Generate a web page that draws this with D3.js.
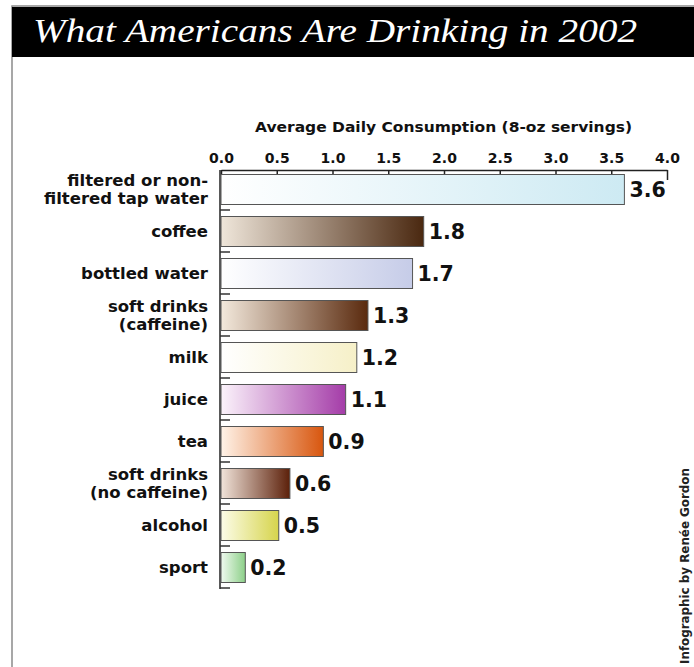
<!DOCTYPE html>
<html><head><meta charset="utf-8">
<script src="https://cdn.jsdelivr.net/npm/d3@7"></script>
<style>body{margin:0;background:#fff}svg{display:block}</style>
</head><body>
<svg id="c" width="694" height="667"></svg>
<script>
const categories = [
  ["filtered or non-", "filtered tap water"],
  ["coffee"],
  ["bottled water"],
  ["soft drinks", "(caffeine)"],
  ["milk"],
  ["juice"],
  ["tea"],
  ["soft drinks", "(no caffeine)"],
  ["alcohol"],
  ["sport"]
];
const values = [3.6, 1.8, 1.7, 1.3, 1.2, 1.1, 0.9, 0.6, 0.5, 0.2];
const valueLabels = ["3.6","1.8","1.7","1.3","1.2","1.1","0.9","0.6","0.5","0.2"];
const tickValues = [0, 0.5, 1.0, 1.5, 2.0, 2.5, 3.0, 3.5, 4.0];
const startColors = ["#ffffff","#efe6da","#ffffff","#f3e9dc","#ffffff","#fbf3fb","#fff3e8","#f1e4da","#fcfce8","#f0faf0"];
const endColors   = ["#cdeaf3","#4a2810","#c6cce8","#5a2a0e","#f6f0c8","#a43ca8","#d8560e","#5c200a","#d6d44c","#8ccf88"];

const svg = d3.select("#c");
const font = "'DejaVu Sans', sans-serif";

// frame
svg.append("rect").attr("x",12).attr("y",6).attr("width",690).attr("height",700)
  .attr("fill","none").attr("stroke","#8a8a8a").attr("stroke-width",1.5);
svg.append("rect").attr("x",12).attr("y",7).attr("width",682).attr("height",50).attr("fill","#000");
svg.append("text").attr("x",33).attr("y",42)
  .attr("font-family","'Liberation Serif', serif").attr("font-style","italic")
  .attr("font-size",33).attr("fill","#fff")
  .attr("textLength",604).attr("lengthAdjust","spacingAndGlyphs")
  .text("What Americans Are Drinking in 2002");

const x = d3.scaleLinear().domain([0,4]).range([221,667]);
const y = d3.scaleBand().domain(d3.range(values.length)).range([168,588]).paddingInner(0).paddingOuter(0);
const barH = 30;

// gradients
const defs = svg.append("defs");
values.forEach((v,i)=>{
  const g = defs.append("linearGradient").attr("id","g"+i).attr("x1","0").attr("x2","1").attr("y1","0").attr("y2","0");
  g.append("stop").attr("offset","0").attr("stop-color",startColors[i]);
  g.append("stop").attr("offset","1").attr("stop-color",endColors[i]);
});

// axis title
svg.append("text").attr("x",255).attr("y",132)
  .attr("font-family",font).attr("font-weight",700).attr("font-size",13.5).attr("fill","#111")
  .attr("textLength",377).attr("lengthAdjust","spacingAndGlyphs")
  .text("Average Daily Consumption (8-oz servings)");

// top axis
const xAxis = d3.axisTop(x).tickValues(tickValues).tickFormat(d3.format(".1f")).tickSize(0).tickPadding(7);
const ax = svg.append("g").attr("transform","translate(0,170)").call(xAxis);
ax.select(".domain").attr("stroke","#222").attr("stroke-width",1.5);
ax.selectAll("text").attr("font-family",font).attr("font-weight",700).attr("font-size",14).attr("fill","#111");
ax.selectAll(".tick").append("line").attr("y1",0).attr("y2",d=>d===4?10:5).attr("stroke","#222").attr("stroke-width",1.5);

// left axis line
svg.append("line").attr("x1",x(0)-1).attr("x2",x(0)-1).attr("y1",170).attr("y2",589).attr("stroke","#222").attr("stroke-width",1.5);
// band ticks
svg.selectAll(".bt").data(values).join("line").attr("class","bt")
  .attr("x1",x(0)-1).attr("x2",x(0)+9)
  .attr("y1",(d,i)=>y(i)+y.bandwidth()).attr("y2",(d,i)=>y(i)+y.bandwidth())
  .attr("stroke","#333").attr("stroke-width",1.5);

// bars
svg.selectAll(".bar").data(values).join("rect").attr("class","bar")
  .attr("x",x(0)).attr("y",(d,i)=>y(i)+(y.bandwidth()-barH)/2+0.5)
  .attr("width",d=>x(d)-x(0)+2).attr("height",barH)
  .attr("fill",(d,i)=>`url(#g${i})`).attr("stroke","#555").attr("stroke-width",1);

// value labels
svg.selectAll(".vl").data(values).join("text").attr("class","vl")
  .attr("x",d=>x(d)+7).attr("y",(d,i)=>y(i)+y.bandwidth()/2+8)
  .attr("font-family",font).attr("font-weight",700).attr("font-size",20.5).attr("fill","#111")
  .text((d,i)=>valueLabels[i]);

// category labels
categories.forEach((lines,i)=>{
  const cy = y(i)+y.bandwidth()/2;
  const t = svg.append("text").attr("text-anchor","end")
    .attr("font-family",font).attr("font-weight",700).attr("font-size",16.5).attr("fill","#111");
  lines.forEach((l,j)=>{
    t.append("tspan").attr("x",208).attr("y",cy+6+(j-(lines.length-1)/2)*18).text(l);
  });
});

// credit
svg.append("text").attr("transform","translate(689,664) rotate(-90)")
  .attr("font-family",font).attr("font-weight",700).attr("font-size",12.5).attr("fill","#222")
  .attr("textLength",196).attr("lengthAdjust","spacingAndGlyphs")
  .text("Infographic by Renée Gordon");
</script>
</body></html>
